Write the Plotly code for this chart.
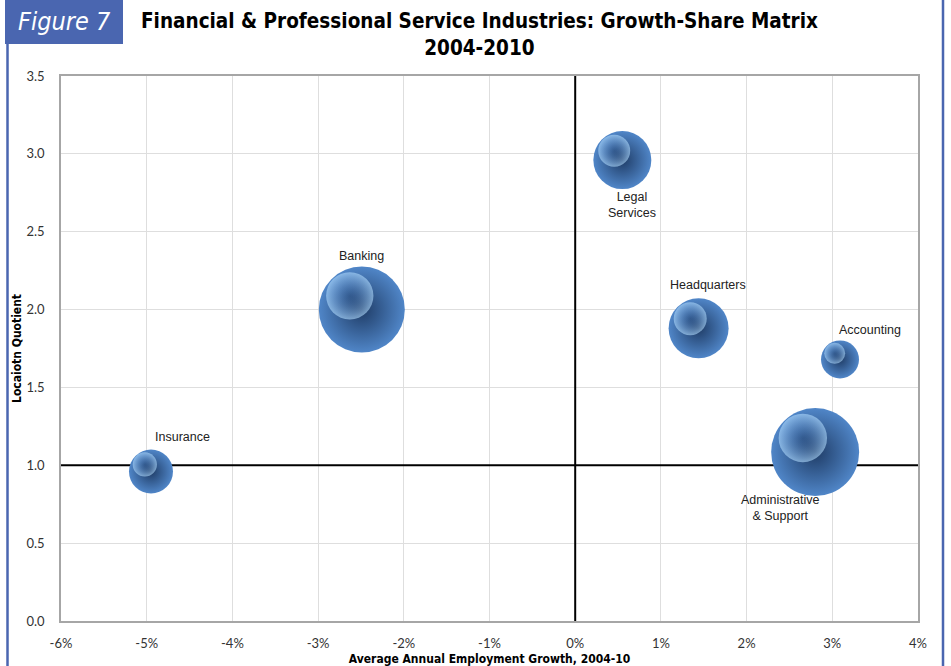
import plotly.graph_objects as go

# Growth-share data for financial & professional service industries
industries = ["Insurance", "Banking", "Legal<br>Services", "Headquarters",
              "Accounting", "Administrative<br>& Support"]
emp_growth = [-4.95, -2.49, 0.55, 1.44, 3.09, 2.80]   # avg annual employment growth, %
location_quotient = [0.96, 2.00, 2.96, 1.88, 1.68, 1.085]
bubble_size = [484, 1849, 841, 900, 361, 1936]       # relative industry size

x_ticks = [-6, -5, -4, -3, -2, -1, 0, 1, 2, 3, 4]
x_tick_labels = ["-6%", "-5%", "-4%", "-3%", "-2%", "-1%", "0%", "1%", "2%", "3%", "4%"]
y_ticks = [0.0, 0.5, 1.0, 1.5, 2.0, 2.5, 3.0, 3.5]

x_divider = 0.0   # zero growth
y_divider = 1.0   # national average concentration

# layout geometry
W, H = 951, 666
ML, MR, MT, MB = 61, 33, 76, 45
PW, PH = W - ML - MR, H - MT - MB
X_RANGE = [-6, 4]
Y_RANGE = [0, 3.5]
SIZEREF = 0.5  # area mode: diameter = sqrt(2 * size / sizeref)

dx_per_px = (X_RANGE[1] - X_RANGE[0]) / PW
dy_per_px = (Y_RANGE[1] - Y_RANGE[0]) / PH

fig = go.Figure()

# quadrant dividers, drawn over the grid but beneath the spheres
fig.add_trace(go.Scatter(x=[x_divider, x_divider], y=Y_RANGE, mode="lines",
                         line=dict(color="black", width=2), hoverinfo="skip", showlegend=False))
fig.add_trace(go.Scatter(x=X_RANGE, y=[y_divider, y_divider], mode="lines",
                         line=dict(color="black", width=2), hoverinfo="skip", showlegend=False))

# sphere bodies
fig.add_trace(go.Scatter(
    x=emp_growth, y=location_quotient, mode="markers",
    marker=dict(size=bubble_size, sizemode="area", sizeref=SIZEREF,
                color="#5086c8",
                gradient=dict(type="radial", color="#1f3c66"),
                line=dict(width=0), opacity=1),
    hoverinfo="text", text=industries, showlegend=False,
))

# specular highlights, shifted up-left on each sphere
radii = [(2 * s / SIZEREF) ** 0.5 / 2 for s in bubble_size]
hx = [x - 0.28 * r * dx_per_px for x, r in zip(emp_growth, radii)]
hy = [y + 0.32 * r * dy_per_px for y, r in zip(location_quotient, radii)]
hsize = [1.1 * r for r in radii]
fig.add_trace(go.Scatter(
    x=hx, y=hy, mode="markers",
    marker=dict(size=hsize, sizemode="diameter",
                color="rgba(180,222,255,0.85)",
                gradient=dict(type="radial", color="rgba(90,140,205,0)"),
                line=dict(width=0)),
    hoverinfo="skip", showlegend=False,
))

# label offsets in pixels relative to bubble centres
label_shift = [(32, 35), (0, 54), (10, -45), (9, 43), (30, 29), (-35, -56)]
for name, x, y, (sx, sy) in zip(industries, emp_growth, location_quotient, label_shift):
    fig.add_annotation(x=x, y=y, text=name, showarrow=False,
                       xshift=sx, yshift=sy, align="center",
                       xanchor="center", yanchor="middle",
                       font=dict(family="Liberation Sans, Arial", size=12.5, color="#222222"))


def px_x(p):
    return (p - ML) / PW


def px_y(p):
    return 1 - (p - MT) / PH


BLUE = "#4a66b0"
# frame lines and figure badge
shapes = [
    dict(type="line", xref="paper", yref="paper", x0=px_x(7.5), x1=px_x(7.5),
         y0=px_y(44), y1=px_y(H), line=dict(color=BLUE, width=2.5)),
    dict(type="line", xref="paper", yref="paper", x0=px_x(943), x1=px_x(943),
         y0=px_y(0), y1=px_y(H), line=dict(color=BLUE, width=2.5)),
    dict(type="rect", xref="paper", yref="paper", x0=px_x(5), x1=px_x(123),
         y0=px_y(44), y1=px_y(0), fillcolor=BLUE, line=dict(width=0), layer="below"),
]

COND = "DejaVu Sans Condensed, Liberation Sans Narrow, Roboto"
fig.add_annotation(xref="paper", yref="paper", x=px_x(64), y=px_y(22),
                   xanchor="center", yanchor="middle",
                   text="<i>Figure 7</i>", showarrow=False,
                   font=dict(family=COND, size=25, color="white"))
fig.add_annotation(xref="paper", yref="paper", x=px_x(479), y=px_y(34),
                   xanchor="center", yanchor="middle",
                   text="<b>Financial & Professional Service Industries: Growth-Share Matrix<br>2004-2010</b>",
                   showarrow=False, align="center",
                   font=dict(family=COND, size=20.5, color="black"))

fig.update_layout(
    width=W, height=H,
    margin=dict(l=ML, r=MR, t=MT, b=MB),
    paper_bgcolor="white", plot_bgcolor="white",
    shapes=shapes,
    xaxis=dict(range=X_RANGE, tickvals=x_ticks, ticktext=x_tick_labels, automargin=False,
               showgrid=True, gridcolor="#dedede", gridwidth=1,
               zeroline=False, showline=True, linecolor="#a6a6a6", linewidth=1.5, mirror=True,
               ticks="", ticklabelstandoff=10,
               tickfont=dict(family="Lato, Liberation Sans", size=13, color="#333333"),
               title=dict(text="<b>Average Annual Employment Growth, 2004-10</b>", standoff=4,
                          font=dict(family=COND, size=12, color="black"))),
    yaxis=dict(range=Y_RANGE, tickvals=y_ticks, tickformat=".1f", automargin=False,
               showgrid=True, gridcolor="#dedede", gridwidth=1,
               zeroline=False, showline=True, linecolor="#a6a6a6", linewidth=1.5, mirror=True,
               ticks="", ticklabelstandoff=12,
               tickfont=dict(family="Lato, Liberation Sans", size=13, color="#333333"),
               title=dict(text="<b>Locaiotn Quotient</b>", standoff=2,
                          font=dict(family=COND, size=12, color="black"))),
)

fig.write_html("out.html")
